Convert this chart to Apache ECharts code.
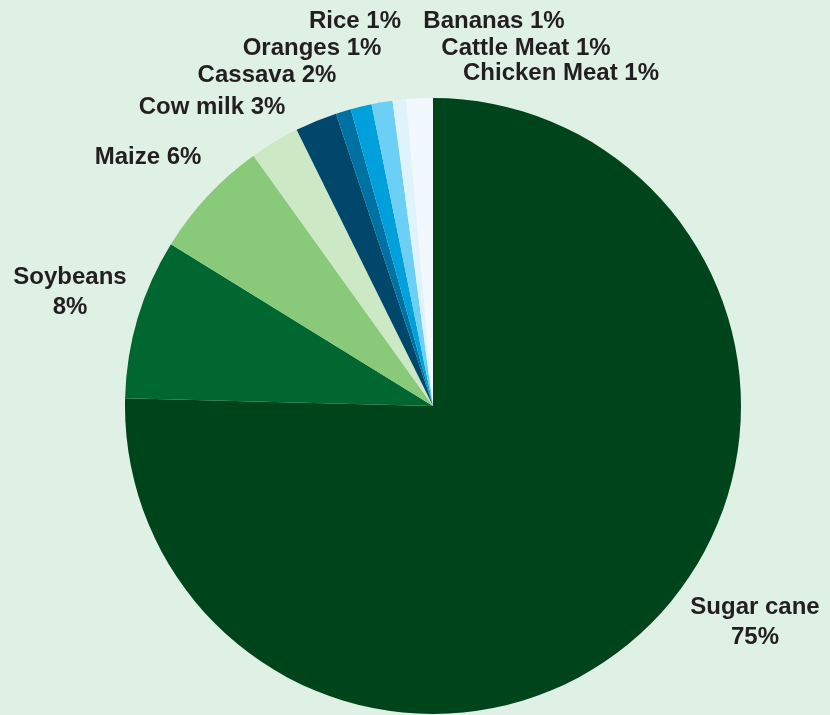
<!DOCTYPE html>
<html>
<head>
<meta charset="utf-8">
<title>Crop production shares</title>
<script src="https://cdn.jsdelivr.net/npm/echarts@6/dist/echarts.min.js"></script>
<style>
  html, body { margin: 0; padding: 0; background: #dff0e5; }
  #chart { width: 830px; height: 715px; }
</style>
</head>
<body>
<div id="chart"></div>
<script>
// Share of production, percent
const categories = ['Sugar cane', 'Soybeans', 'Maize', 'Cow milk', 'Cassava',
                    'Oranges', 'Rice', 'Bananas', 'Cattle Meat', 'Chicken Meat'];
const shares = [75.4, 8.4, 6.3, 2.6, 2.2, 0.8, 1.1, 1.1, 0.7, 1.4];

// Slice colours, same order as categories
const sliceColors = ['#00441b', '#006730', '#88c97a', '#cde8c5', '#00476b',
                     '#0071a3', '#00a0dc', '#6ccff5', '#dff3fc', '#f1f9fe'];

// Names whose label breaks onto two lines
const twoLineLabels = ['Sugar cane', 'Soybeans'];

// Label centres in px (layout only)
const labelCentres = {
  'Sugar cane':   [755, 622],
  'Soybeans':     [70, 292],
  'Maize':        [148, 157],
  'Cow milk':     [212, 107],
  'Cassava':      [267, 75],
  'Oranges':      [312, 48],
  'Rice':         [355, 21],
  'Bananas':      [494, 21],
  'Cattle Meat':  [526, 48],
  'Chicken Meat': [561, 73]
};

const chart = echarts.init(document.getElementById('chart'), null, { renderer: 'canvas' });

chart.setOption({
  backgroundColor: '#dff0e5',
  animation: false,
  series: [{
    type: 'pie',
    center: [433, 406],
    radius: 308,
    startAngle: 90,
    clockwise: true,
    avoidLabelOverlap: false,
    data: categories.map((name, i) => ({
      name: name,
      value: shares[i],
      itemStyle: { color: sliceColors[i] }
    })),
    label: {
      show: true,
      position: 'outside',
      fontFamily: '"Liberation Sans", Arial, sans-serif',
      fontWeight: 'bold',
      fontSize: 24,
      lineHeight: 30,
      color: '#231f20',
      formatter: function (p) {
        const pct = Math.round(p.value) + '%';
        return twoLineLabels.indexOf(p.name) >= 0 ? p.name + '\n' + pct : p.name + ' ' + pct;
      }
    },
    labelLine: { show: false },
    labelLayout: function (params) {
      const c = labelCentres[categories[params.dataIndex]];
      return { x: c[0], y: c[1], align: 'center', verticalAlign: 'middle' };
    },
    emphasis: { disabled: true }
  }]
});
</script>
</body>
</html>
